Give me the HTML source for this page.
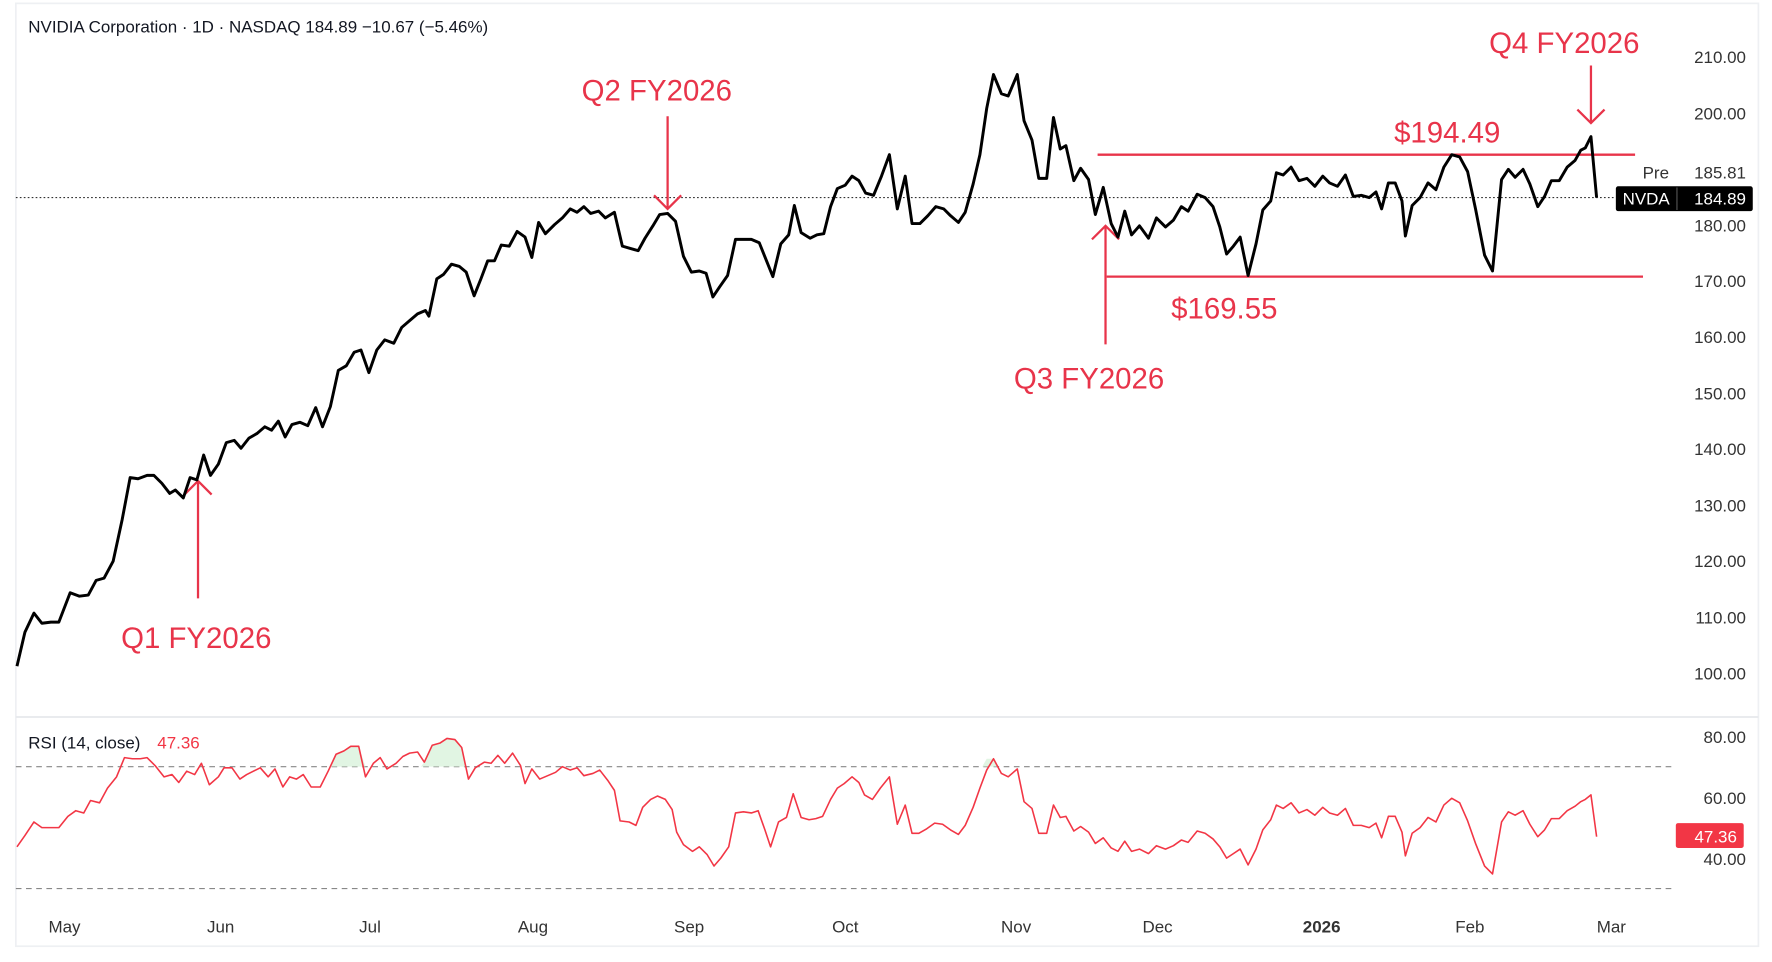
<!DOCTYPE html>
<html><head><meta charset="utf-8"><style>
html,body{margin:0;padding:0;background:#fff;}
svg{display:block;font-family:"Liberation Sans",sans-serif;}
</style></head><body>
<svg width="1772" height="962" viewBox="0 0 1566 852" preserveAspectRatio="none">
<rect x="0" y="0" width="1566" height="852" fill="#fff"/>
<rect x="14" y="3" width="1540" height="835" fill="none" stroke="#eef0f3" stroke-width="1.5"/>
<line x1="14" y1="635" x2="1554" y2="635" stroke="#e6e8ec" stroke-width="1.5"/>
<text x="25" y="29" font-size="15" fill="#131722">NVIDIA Corporation · 1D · NASDAQ  184.89  −10.67 (−5.46%)</text>
<g font-size="15" fill="#333" text-anchor="end">
<text x="1543" y="56">210.00</text><text x="1543" y="106">200.00</text>
<text x="1543" y="205">180.00</text><text x="1543" y="254">170.00</text><text x="1543" y="304">160.00</text>
<text x="1543" y="354">150.00</text><text x="1543" y="403">140.00</text><text x="1543" y="453">130.00</text>
<text x="1543" y="502">120.00</text><text x="1543" y="552">110.00</text><text x="1543" y="602">100.00</text>
<text x="1543" y="158">185.81</text><text x="1475" y="158">Pre</text>
<text x="1543" y="658">80.00</text><text x="1543" y="712">60.00</text><text x="1543" y="766">40.00</text>
</g>
<line x1="14" y1="175" x2="1428" y2="175" stroke="#333" stroke-width="1" stroke-dasharray="1.5,2"/>
<rect x="1428" y="165" width="121" height="22" rx="2" fill="#000"/>
<line x1="1482" y1="166" x2="1482" y2="186" stroke="#555"/>
<text x="1434" y="181" font-size="15" fill="#fff">NVDA</text>
<text x="1543" y="181" font-size="15" fill="#fff" text-anchor="end">184.89</text>
<rect x="1481" y="729" width="60" height="22" rx="2" fill="#f23645"/>
<text x="1535" y="746" font-size="15" fill="#fff" text-anchor="end">47.36</text>
<g stroke="#e8344a" stroke-width="2" fill="none">
<line x1="970" y1="137" x2="1445" y2="137"/>
<line x1="978" y1="245" x2="1452" y2="245"/>
<line x1="175" y1="530" x2="175" y2="426"/><polyline points="163,438 175,426 187,438"/>
<line x1="590" y1="103" x2="590" y2="185"/><polyline points="578,173 590,185 602,173"/>
<line x1="977" y1="305" x2="977" y2="200"/><polyline points="965,212 977,200 989,212"/>
<line x1="1406" y1="58" x2="1406" y2="109"/><polyline points="1394,97 1406,109 1418,97"/>
</g>
<g font-size="26" fill="#e8344a">
<text x="107" y="574">Q1 FY2026</text>
<text x="514" y="89">Q2 FY2026</text>
<text x="896" y="344">Q3 FY2026</text>
<text x="1316" y="47">Q4 FY2026</text>
<text x="1232" y="126">$194.49</text>
<text x="1035" y="282">$169.55</text>
</g>
<polyline fill="none" stroke="#000" stroke-width="2.6" stroke-linejoin="round" points="15,590 22,560 30,543 37,552 45,551 52,551 62,525 70,528 78,527 85,514 92,512 100,497 108,460 115,423 122,424 130,421 136,421 143,428 150,437 155,434 162,441 168,423 174,425 180,403 186,421 193,411 200,392 207,390 213,397 220,388 227,384 234,378 240,381 246,373 252,387 258,376 265,374 272,377 279,361 285,378 292,360 299,328 306,324 313,312 319,310 326,330 333,310 340,301 348,304 355,290 362,284 369,278 376,275 379,280 386,247 392,243 399,234 406,236 412,241 419,262 425,247 431,231 437,231 443,217 450,218 457,205 464,210 470,228 476,197 482,207 490,199 497,193 504,185 510,188 516,183 522,189 529,187 535,193 543,188 550,218 557,220 564,222 570,211 577,200 583,190 590,189 597,196 604,227 611,241 618,240 624,242 630,263 636,254 643,244 650,212 657,212 664,212 671,215 677,230 683,245 690,216 697,208 702,182 708,206 716,211 722,208 728,207 734,183 740,167 747,164 753,156 759,160 765,171 772,173 779,156 786,137 793,185 800,156 806,198 813,198 820,191 827,183 834,185 840,191 847,197 853,188 860,163 866,137 872,96 878,66 885,83 891,85 899,66 905,107 912,124 918,158 925,158 931,104 937,132 942,129 949,160 955,149 962,159 968,190 975,166 982,198 988,210 994,187 1000,208 1007,200 1015,211 1022,193 1030,201 1037,195 1044,183 1050,187 1058,172 1065,175 1072,183 1078,201 1084,225 1090,218 1096,210 1103,244 1110,216 1116,186 1123,178 1128,153 1134,155 1141,148 1148,160 1155,158 1162,165 1169,156 1175,162 1182,165 1189,155 1196,174 1203,173 1210,175 1216,170 1221,185 1227,162 1233,162 1239,178 1242,209 1248,182 1255,175 1262,162 1269,168 1276,148 1283,137 1290,139 1297,152 1304,185 1312,226 1319,240 1327,159 1333,150 1339,157 1346,150 1352,163 1359,183 1365,174 1371,160 1378,160 1385,148 1392,142 1397,133 1401,131 1406,121 1411,175"/>
<text x="25" y="663" font-size="15" fill="#131722">RSI (14, close)</text>
<text x="139" y="663" font-size="15" fill="#f23645">47.36</text>
<g stroke="#888" stroke-width="1" stroke-dasharray="5,4">
<line x1="14" y1="679" x2="1480" y2="679"/><line x1="14" y1="787" x2="1480" y2="787"/>
</g>
<g fill="#d9f2dc" opacity="0.8">
<polygon points="292,679 297,668 304,665 310,661 317,661 323,679"/>
<polygon points="372,679 375,675 382,660 389,658 395,654 402,655 408,662 412,679"/>
<polygon points="868,679 872,672 878,672 882,679"/>
</g>
<polyline fill="none" stroke="#f23645" stroke-width="1.4" stroke-linejoin="round" points="15,750 22,740 30,728 37,733 45,733 52,733 60,723 67,718 74,720 80,709 88,711 95,698 103,688 110,671 117,672 124,672 130,671 137,678 145,688 152,686 158,693 165,683 172,686 178,676 185,695 193,688 198,680 205,680 212,690 218,686 226,682 230,680 237,688 243,681 250,697 256,688 262,690 268,686 275,697 283,697 290,683 297,668 304,665 310,661 317,661 323,688 330,676 336,671 342,681 350,676 356,670 362,667 369,666 375,675 382,660 389,658 395,654 402,655 408,662 414,690 420,680 428,675 434,676 440,669 446,676 453,667 460,678 464,694 470,681 477,690 484,687 491,684 497,679 504,682 510,680 516,687 524,685 530,682 537,691 543,700 548,727 556,728 562,731 568,715 575,708 581,705 588,708 594,717 598,737 604,748 612,754 618,750 625,757 631,767 637,760 644,750 650,720 657,719 664,720 670,718 676,735 681,750 688,728 695,724 701,703 708,724 715,726 721,725 727,723 734,708 740,698 746,694 753,688 759,693 764,704 771,708 778,698 786,688 793,730 800,713 806,738 812,738 819,734 826,729 833,730 840,735 847,739 853,731 860,715 866,698 872,682 878,672 885,685 891,688 899,681 905,710 912,716 918,738 925,738 931,713 937,724 942,723 949,736 955,732 962,737 968,747 975,742 982,751 988,754 994,745 1000,754 1007,752 1015,756 1022,749 1030,752 1037,749 1044,744 1050,746 1058,736 1065,738 1072,743 1078,750 1084,760 1090,756 1096,752 1103,766 1110,752 1116,735 1123,726 1128,713 1134,716 1141,711 1148,720 1155,717 1162,722 1169,715 1175,720 1182,722 1189,716 1196,731 1203,731 1210,733 1216,729 1221,742 1227,723 1233,723 1239,737 1242,758 1248,738 1255,733 1262,724 1269,728 1276,713 1283,707 1290,711 1297,727 1304,747 1312,767 1319,774 1327,728 1333,719 1339,722 1346,718 1352,730 1359,741 1365,735 1371,725 1378,725 1385,718 1392,714 1397,710 1401,708 1406,704 1411,741"/>
<g font-size="15" fill="#333" text-anchor="middle">
<text x="57" y="826">May</text><text x="195" y="826">Jun</text><text x="327" y="826">Jul</text>
<text x="471" y="826">Aug</text><text x="609" y="826">Sep</text><text x="747" y="826">Oct</text>
<text x="898" y="826">Nov</text><text x="1023" y="826">Dec</text>
<text x="1168" y="826" font-weight="bold">2026</text><text x="1299" y="826">Feb</text><text x="1424" y="826">Mar</text>
</g>
</svg>
</body></html>
